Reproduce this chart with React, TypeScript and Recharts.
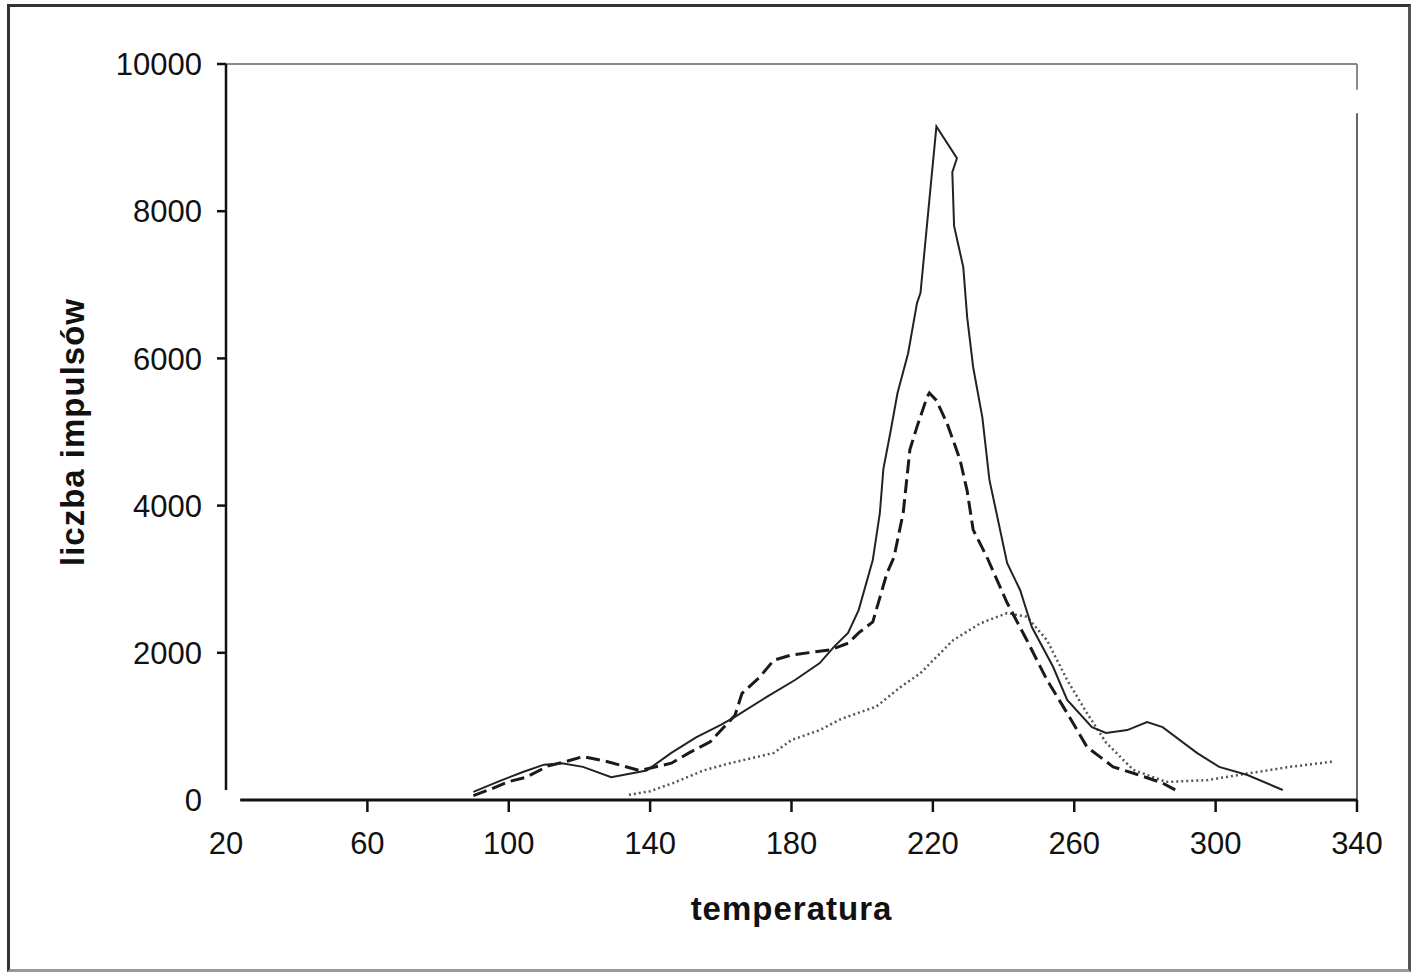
import { LineChart, Line, XAxis, YAxis, ReferenceLine } from "recharts";

const xTicks = [20, 60, 100, 140, 180, 220, 260, 300, 340];
const yTicks = [0, 2000, 4000, 6000, 8000, 10000];

// solid curve
const solidT = [90, 97, 104, 110, 115, 121, 129, 139, 146, 153, 160, 164, 173, 181, 188, 192, 196, 199, 203, 205, 206, 208, 210, 213, 215.5, 216.5, 219, 221, 226.8, 225.5, 226, 228.6, 229.7, 231.4, 234, 236, 238, 241, 244.7, 248, 254, 258, 265, 269, 275, 280.6, 285, 294.7, 301, 309, 319];
const solidV = [110, 250, 380, 480, 500, 450, 310, 400, 640, 850, 1020, 1130, 1400, 1630, 1860, 2080, 2270, 2580, 3260, 3900, 4500, 5000, 5530, 6070, 6750, 6890, 8150, 9150, 8720, 8530, 7800, 7240, 6560, 5880, 5200, 4350, 3900, 3220, 2850, 2350, 1810, 1360, 990, 910, 950, 1060, 990, 640, 450, 340, 136];

// dashed curve
const dashedT = [90, 95, 100, 105, 111, 116, 121, 128, 137, 146, 151, 157, 164, 166, 171, 175, 180, 191, 196, 199, 203, 205, 207, 209, 211.6, 213.5, 215.5, 218.4, 219, 221, 224, 227.7, 229.7, 231.4, 235.3, 241, 246.6, 252.3, 258, 263.6, 271, 277, 285, 290];
const dashedV = [60, 150, 250, 310, 460, 520, 590, 520, 400, 500, 640, 790, 1150, 1450, 1670, 1900, 1970, 2040, 2130, 2270, 2420, 2750, 3080, 3300, 3900, 4760, 5070, 5480, 5530, 5430, 5120, 4620, 4200, 3670, 3300, 2680, 2170, 1630, 1180, 720, 450, 360, 230, 100];

// dotted curve
const dottedT = [134, 140, 146.5, 155, 162.6, 175, 180, 188, 194, 204, 211, 216.4, 225.7, 233.4, 241, 246.6, 252.3, 258, 263.6, 269, 276.7, 286, 297.6, 309, 321, 333];
const dottedV = [70, 120, 230, 400, 500, 640, 815, 950, 1100, 1270, 1540, 1720, 2170, 2400, 2540, 2490, 2170, 1630, 1180, 780, 410, 245, 270, 360, 450, 520];

const toPoints = (ts: number[], vs: number[]) => ts.map((t, i) => ({ t, v: vs[i] }));

const solidData = toPoints(solidT, solidV);
const dashedData = toPoints(dashedT, dashedV);
const dottedData = toPoints(dottedT, dottedV);

const FONT = "'Liberation Sans', Arial, Helvetica, sans-serif";

function XTick(props: any) {
  const { x, y, payload } = props;
  // y = axis + tickSize(12) + tickMargin(20)
  const axisY = y - 32;
  return (
    <g>
      {payload.value !== 20 && (
        <line x1={x} x2={x} y1={axisY} y2={axisY + 12} stroke="#111" strokeWidth={2.5} />
      )}
      <text x={x} y={y} dy="0.72em" textAnchor="middle" fill="#111" fontSize={31} fontFamily={FONT}>
        {payload.value}
      </text>
    </g>
  );
}

function YTick(props: any) {
  const { x, y, payload } = props;
  // x = axis - tickSize(9) - tickMargin(15)
  const axisX = x + 24;
  return (
    <g>
      {payload.value !== 0 && (
        <line x1={axisX - 9} x2={axisX} y1={y} y2={y} stroke="#111" strokeWidth={2.5} />
      )}
      <text x={x} y={y} dy="0.36em" textAnchor="end" fill="#111" fontSize={31} fontFamily={FONT}>
        {payload.value}
      </text>
    </g>
  );
}

export default function App() {
  return (
    <div style={{ position: "absolute", left: 0, top: 0, width: 1418, height: 975, background: "#fff" }}>
      <div
        style={{
          position: "absolute",
          left: 7,
          top: 4,
          width: 1404,
          height: 968,
          border: "3px solid #333",
          borderBottomColor: "#999",
          borderRightColor: "#555",
          boxSizing: "border-box",
        }}
      />
      <div style={{ position: "absolute", left: 0, top: 0 }}>
        <LineChart width={1418} height={975} margin={{ top: 64, right: 61, bottom: 50, left: 0 }}>
          <XAxis
            type="number"
            dataKey="t"
            domain={[20, 340]}
            ticks={xTicks}
            allowDataOverflow
            axisLine={false}
            tickLine={false}
            tickSize={12}
            tickMargin={20}
            height={125}
            tick={<XTick />}
            label={{
              value: "temperatura",
              position: "insideBottom",
              offset: 5,
              style: { fontFamily: FONT, fontSize: 33, fontWeight: "bold", letterSpacing: 1, fill: "#111" },
            }}
          />
          <YAxis
            type="number"
            dataKey="v"
            domain={[0, 10000]}
            ticks={yTicks}
            allowDataOverflow
            axisLine={false}
            tickLine={false}
            tickSize={9}
            tickMargin={15}
            width={226}
            tick={<YTick />}
            label={{
              value: "liczba impulsów",
              angle: -90,
              position: "insideLeft",
              offset: 72,
              style: { textAnchor: "middle", fontFamily: FONT, fontSize: 33, fontWeight: "bold", letterSpacing: 1, fill: "#111" },
            }}
          />
          <ReferenceLine segment={[{ x: 20, y: 10000 }, { x: 340, y: 10000 }]} stroke="#888" strokeWidth={2} />
          <ReferenceLine segment={[{ x: 340, y: 10000 }, { x: 340, y: 9650 }]} stroke="#888" strokeWidth={2} />
          <ReferenceLine segment={[{ x: 340, y: 9330 }, { x: 340, y: 0 }]} stroke="#666" strokeWidth={2} />
          <ReferenceLine segment={[{ x: 20, y: 10000 }, { x: 20, y: 136 }]} stroke="#111" strokeWidth={2.5} />
          <ReferenceLine segment={[{ x: 24, y: 0 }, { x: 340, y: 0 }]} stroke="#111" strokeWidth={3} />
          <Line
            data={dottedData}
            dataKey="v"
            type="linear"
            stroke="#555"
            strokeWidth={2.5}
            strokeDasharray="2 3"
            dot={false}
            isAnimationActive={false}
          />
          <Line
            data={dashedData}
            dataKey="v"
            type="linear"
            stroke="#1a1a1a"
            strokeWidth={3}
            strokeDasharray="14 6"
            dot={false}
            isAnimationActive={false}
          />
          <Line
            data={solidData}
            dataKey="v"
            type="linear"
            stroke="#222"
            strokeWidth={2}
            dot={false}
            isAnimationActive={false}
          />
        </LineChart>
      </div>
    </div>
  );
}
